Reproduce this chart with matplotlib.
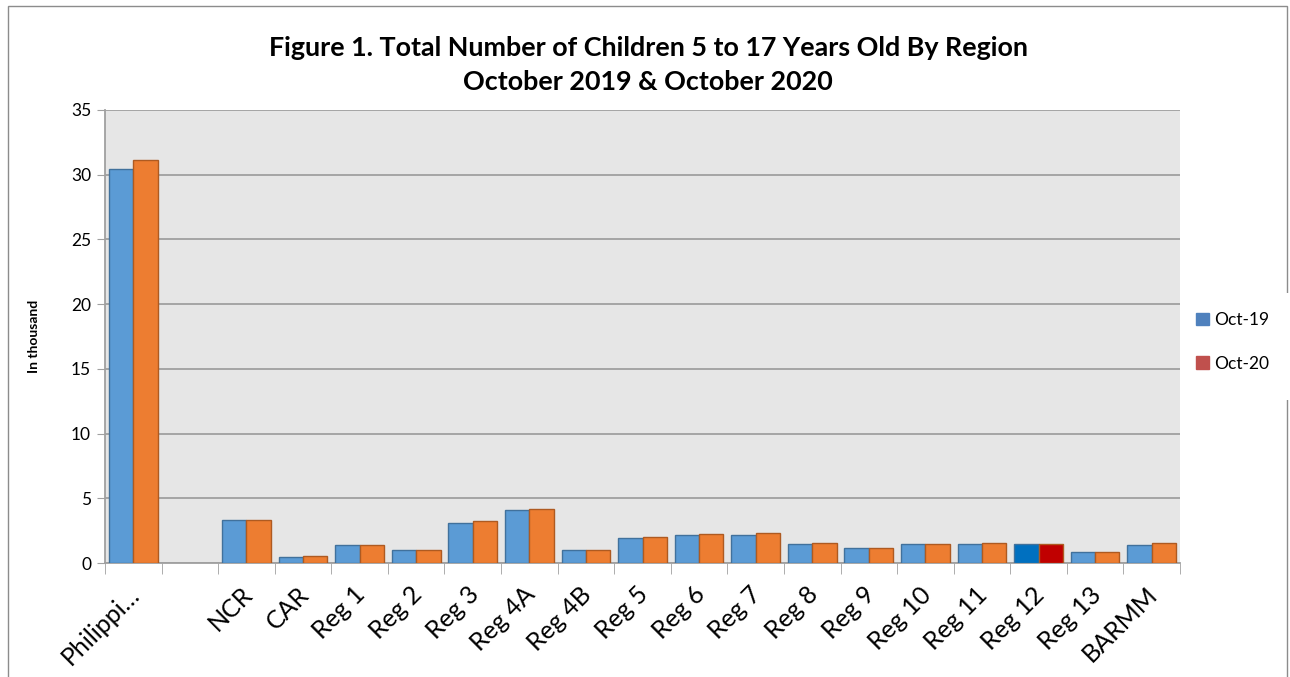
import numpy as np
import matplotlib.pyplot as plt
from matplotlib.patches import Rectangle, Patch
from matplotlib.transforms import ScaledTranslation

categories = ["Philippi…", "", "NCR", "CAR", "Reg 1", "Reg 2", "Reg 3", "Reg 4A",
              "Reg 4B", "Reg 5", "Reg 6", "Reg 7", "Reg 8", "Reg 9", "Reg 10",
              "Reg 11", "Reg 12", "Reg 13", "BARMM"]
oct19 = [30.45, 0, 3.32, 0.49, 1.42, 1.00, 3.12, 4.10, 1.00, 1.96, 2.19, 2.19,
         1.49, 1.14, 1.49, 1.49, 1.49, 0.85, 1.42]
oct20 = [31.10, 0, 3.34, 0.52, 1.42, 1.00, 3.24, 4.17, 1.00, 1.98, 2.27, 2.30,
         1.57, 1.19, 1.47, 1.57, 1.49, 0.87, 1.52]
series_names = ["Oct-19", "Oct-20"]
title = "Figure 1. Total Number of Children 5 to 17 Years Old By Region\nOctober 2019 & October 2020"

plt.rcParams["font.family"] = ["Lato", "DejaVu Sans"]

blue, orange = "#5b9bd5", "#ed7d31"
blue_edge, orange_edge = "#41719c", "#ae5a21"
highlight = {"Reg 12": ("#0070c0", "#c00000")}

fig = plt.figure(figsize=(12.9, 6.77), dpi=100)
ax = fig.add_axes([105 / 1290, 114 / 677, 1075 / 1290, 453 / 677])
ax.set_facecolor("#e6e6e6")

x = np.arange(len(categories))
w = 0.43
c19 = [highlight.get(c, (blue, orange))[0] for c in categories]
c20 = [highlight.get(c, (blue, orange))[1] for c in categories]
mask = np.array([c != "" for c in categories])
ax.bar(x[mask] - w / 2, np.array(oct19)[mask], w, color=np.array(c19)[mask],
       edgecolor=blue_edge, linewidth=1, zorder=3)
ax.bar(x[mask] + w / 2, np.array(oct20)[mask], w, color=np.array(c20)[mask],
       edgecolor=orange_edge, linewidth=1, zorder=3)

ax.set_xlim(-0.5, len(categories) - 0.5)
ax.set_ylim(0, 35)
ax.set_yticks(range(0, 36, 5))
ax.grid(axis="y", color="#a0a0a0", linewidth=1.3, zorder=1)
ax.tick_params(axis="y", labelsize=12.5, length=6, color="#a0a0a0", pad=4)

ax.set_xticks(np.arange(-0.5, len(categories), 1), minor=True)
ax.set_xticks(x)
ax.set_xticklabels(categories, rotation=45, ha="right", va="center",
                   rotation_mode="anchor", fontsize=18)
ax.tick_params(axis="x", which="major", length=0, pad=20)
ax.tick_params(axis="x", which="minor", length=8, color="#a0a0a0")
shift = ScaledTranslation(2 / 100, 0, fig.dpi_scale_trans)
for lab in ax.get_xticklabels():
    lab.set_transform(lab.get_transform() + shift)

for s in ["top", "right"]:
    ax.spines[s].set_visible(False)
for s in ["left", "bottom"]:
    ax.spines[s].set_color("#a0a0a0")
    ax.spines[s].set_linewidth(1.3)

ax.set_ylabel("In thousand", fontsize=10, fontweight="bold", labelpad=22)

fig.text(648 / 1290, 1 - 65 / 677, title, ha="center", va="center",
         fontsize=19.4, fontweight="bold", linespacing=1.55)

# outer chart border
fig.patches.append(Rectangle((8 / 1290, -0.01), 1279 / 1290, 1.01 - 6 / 677,
                             transform=fig.transFigure, fill=False,
                             edgecolor="#8c8c8c", linewidth=1))
# white legend box covering the border
fig.patches.append(Rectangle((1189 / 1290, 1 - 400 / 677), 0.1, 107 / 677,
                             transform=fig.transFigure, facecolor="white",
                             edgecolor="none", zorder=5))

handles = [Patch(facecolor="#4f81bd", edgecolor="#4f81bd"),
           Patch(facecolor="#c0504d", edgecolor="#c0504d")]
leg = fig.legend(handles, series_names, loc="center left",
                 bbox_to_anchor=(1189 / 1290, 1 - 342 / 677), fontsize=12.5,
                 frameon=False, handlelength=0.75, handleheight=0.75,
                 handletextpad=0.3, labelspacing=1.6, borderpad=0.4,
                 borderaxespad=0)
leg.set_zorder(6)

fig.savefig("out.png", dpi=100)
